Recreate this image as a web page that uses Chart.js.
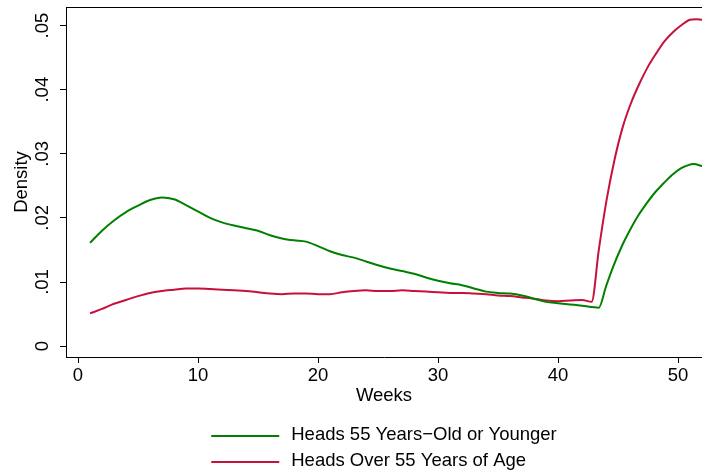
<!DOCTYPE html>
<html>
<head>
<meta charset="utf-8">
<title>Density by weeks</title>
<script src="https://cdn.jsdelivr.net/npm/chart.js@4.4.0/dist/chart.umd.min.js"></script>
<style>
  html, body { margin: 0; padding: 0; background: #fff; }
  #wrap { width: 702px; height: 474px; }
</style>
</head>
<body>
<div id="wrap"><canvas id="chart"></canvas></div>
<script>
// Valores (semanas vs. densidad)
const youngWeeks = [1, 2, 3, 4, 5, 6, 7, 8, 9, 10, 11, 12, 13, 14, 15, 16, 17, 18, 19, 20,
  21, 22, 23, 24, 25, 26, 27, 28, 29, 30, 31, 32, 33, 34, 35, 36, 37, 38, 39, 40, 41, 42,
  43.4, 44, 44.6, 45.3, 46, 46.7, 47.4, 48.1, 48.8, 49.5, 50.2, 50.8, 51.3, 52];
const youngDensity = [0.0161, 0.0180, 0.0196, 0.0209, 0.0219, 0.0228, 0.0232, 0.0229, 0.0220, 0.0210,
  0.0200, 0.0193, 0.0188, 0.0184, 0.0180, 0.0173, 0.0168, 0.0165, 0.0163, 0.0156,
  0.0148, 0.0142, 0.0138, 0.0132, 0.0126, 0.0121, 0.0117, 0.0113, 0.0107, 0.0102,
  0.0098, 0.0095, 0.0090, 0.0085, 0.0083, 0.0082, 0.0079, 0.0074, 0.0069, 0.0067, 0.0065, 0.0063,
  0.0060, 0.0093, 0.0124, 0.0155, 0.0181, 0.0204, 0.0223, 0.0240, 0.0254, 0.0267, 0.0277, 0.0282, 0.0284, 0.0281];

const oldWeeks = [1, 2, 3, 4, 5, 6, 7, 8, 9, 10, 11, 12, 13, 14, 15, 16, 17, 18, 19, 20,
  21, 22, 23, 24, 25, 26, 27, 28, 29, 30, 31, 32, 33, 34, 35, 36, 37, 38, 39, 40, 41, 42,
  42.8, 43.4, 44.05, 44.7, 45.4, 46.1, 46.8, 47.5, 48.2, 48.9, 49.6, 50.3, 51, 51.5, 52];
const oldDensity = [0.0051, 0.0058, 0.0066, 0.0072, 0.0078, 0.0083, 0.0086, 0.0088, 0.0090, 0.0090,
  0.0089, 0.0088, 0.0087, 0.0086, 0.0084, 0.0082, 0.0081, 0.0082, 0.0082, 0.0081,
  0.0081, 0.0084, 0.0086, 0.0087, 0.0086, 0.0086, 0.0087, 0.0086, 0.0085, 0.0084,
  0.0083, 0.0083, 0.0082, 0.0081, 0.0079, 0.0078, 0.0076, 0.0074, 0.0071, 0.0070, 0.0071, 0.0072,
  0.0069, 0.0150, 0.0228, 0.0290, 0.0342, 0.0380, 0.0410, 0.0436, 0.0457, 0.0476, 0.0490, 0.0501, 0.0509, 0.0510, 0.0509];

const seriesLabels = ['Heads 55 Years\u2212Old or Younger', 'Heads Over 55 Years of Age'];
const seriesColors = ['#008000', '#c8103c'];

const xTicks = [0, 10, 20, 30, 40, 50];
const yTicks = [0, 0.01, 0.02, 0.03, 0.04, 0.05];

const FONT = 'Arial, "Liberation Sans", sans-serif';
const FONT_SIZE = 18.5;
Chart.defaults.font.family = FONT;
Chart.defaults.font.size = FONT_SIZE;
Chart.defaults.color = '#000';

const toPoints = (xs, ys) => xs.map((x, i) => ({ x, y: ys[i] }));

// Formato estilo Stata: ".01", ".02", ... y "0"
const fmtDensity = (v) => (v === 0 ? '0' : v.toFixed(2).replace(/^0/, ''));

/** Marco superior del área de trazado (los ejes ya dibujan izquierda y abajo). */
const frameTop = {
  id: 'frameTop',
  afterDraw(chart) {
    const { ctx, chartArea } = chart;
    ctx.save();
    ctx.strokeStyle = '#000';
    ctx.lineWidth = 1;
    ctx.beginPath();
    ctx.moveTo(chartArea.left, chartArea.top + 0.5);
    ctx.lineTo(chartArea.right, chartArea.top + 0.5);
    ctx.stroke();
    ctx.restore();
  },
};

/** Leyenda en dos filas, alineada a la izquierda dentro de un bloque centrado. */
const stackedLegend = {
  id: 'stackedLegend',
  afterDraw(chart) {
    const { ctx, chartArea } = chart;
    const sample = 68, gap = 12, rowH = 26;
    ctx.save();
    ctx.font = FONT_SIZE + 'px ' + FONT;
    const widths = chart.data.datasets.map((d) => ctx.measureText(d.label).width);
    const blockW = sample + gap + Math.max(...widths);
    const x0 = (chartArea.left + chartArea.right) / 2 - blockW / 2;
    chart.data.datasets.forEach((d, i) => {
      const y = chart.height - 38 + i * rowH;
      ctx.strokeStyle = d.borderColor;
      ctx.lineWidth = 2;
      ctx.beginPath();
      ctx.moveTo(x0, y);
      ctx.lineTo(x0 + sample, y);
      ctx.stroke();
      ctx.fillStyle = '#000';
      ctx.textBaseline = 'middle';
      ctx.textAlign = 'left';
      ctx.fillText(d.label, x0 + sample + gap, y - 1);
    });
    ctx.restore();
  },
};

new Chart(document.getElementById('chart'), {
  type: 'line',
  data: {
    datasets: [
      {
        label:       seriesLabels[0],
        data:        toPoints(youngWeeks, youngDensity),
        borderColor: seriesColors[0],
        borderWidth: 2,
        pointRadius: 0,
        cubicInterpolationMode: 'monotone',
      },
      {
        label:       seriesLabels[1],
        data:        toPoints(oldWeeks, oldDensity),
        borderColor: seriesColors[1],
        borderWidth: 2,
        pointRadius: 0,
        cubicInterpolationMode: 'monotone',
      },
    ],
  },
  options: {
    responsive:          true,
    maintainAspectRatio: false,
    animation:           false,
    layout: { padding: { top: 7, right: 0, bottom: 67, left: 0 } },
    plugins: {
      legend:  { display: false },
      tooltip: { enabled: false },
    },
    scales: {
      x: {
        type: 'linear',
        min: -1,
        max: 52,
        afterBuildTicks: (s) => { s.ticks = xTicks.map((v) => ({ value: v })); },
        afterFit: (s) => { s.height = 50; s.paddingLeft = 0; s.paddingRight = 0; },
        ticks:  { padding: 2, maxRotation: 0, color: '#000' },
        grid:   { drawOnChartArea: false, tickLength: 6, color: '#000' },
        border: { color: '#000', width: 1 },
        title:  { display: true, text: 'Weeks', padding: { top: 0, bottom: 0 } },
      },
      y: {
        type: 'linear',
        min: -0.0017,
        max: 0.0529,
        afterBuildTicks: (s) => { s.ticks = yTicks.map((v) => ({ value: v })); },
        afterFit: (s) => { s.width = 66; s.paddingTop = 0; s.paddingBottom = 0; },
        ticks:  {
          padding: 4,
          minRotation: 90,
          maxRotation: 90,
          crossAlign: 'center',
          color: '#000',
          callback: (v) => fmtDensity(v),
        },
        grid:   { drawOnChartArea: false, tickLength: 6, color: '#000' },
        border: { color: '#000', width: 1 },
        title:  { display: true, text: 'Density', padding: { top: 11, bottom: 0 } },
      },
    },
  },
  plugins: [frameTop, stackedLegend],
});
</script>
</body>
</html>
